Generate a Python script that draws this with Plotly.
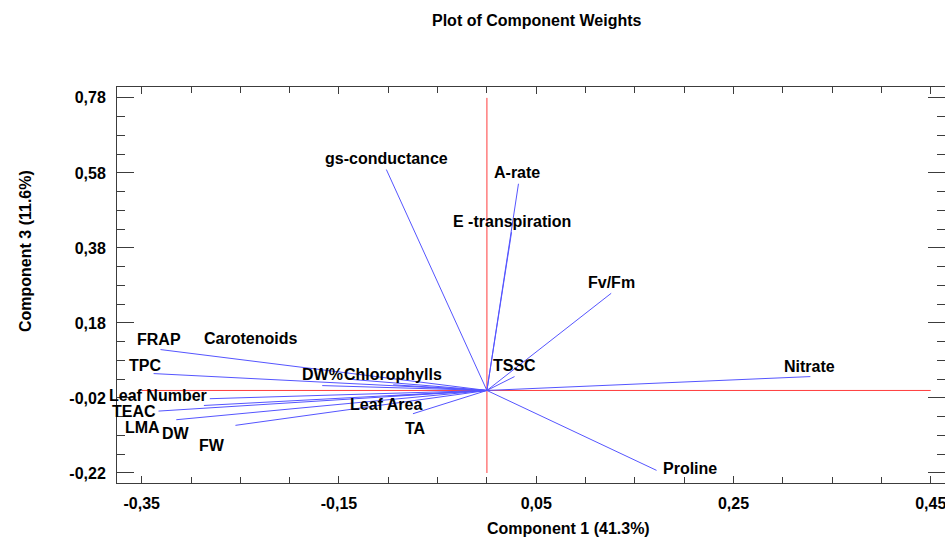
import plotly.graph_objects as go

# Component weights (component 1 vs component 3)
variables = ["gs-conductance", "A-rate", "E -transpiration", "Fv/Fm", "TSSC",
             "Nitrate", "Proline", "TA", "Leaf Area", "Chlorophylls", "DW%",
             "Carotenoids", "FRAP", "TPC", "Leaf Number", "TEAC", "LMA", "DW", "FW"]
component1 = [-0.102, 0.032, 0.025, 0.126, 0.028,
              0.328, 0.172, -0.075, -0.100, -0.095, -0.167,
              -0.140, -0.331, -0.338, -0.281, -0.333, -0.315, -0.287, -0.255]
component3 = [0.589, 0.551, 0.422, 0.259, 0.037,
              0.037, -0.213, -0.062, -0.015, 0.015, 0.013,
              0.030, 0.109, 0.045, -0.022, -0.055, -0.078, -0.040, -0.093]

x_tickvals = [-0.35, -0.15, 0.05, 0.25, 0.45]
x_ticktext = ["-0,35", "-0,15", "0,05", "0,25", "0,45"]
y_tickvals = [-0.22, -0.02, 0.18, 0.38, 0.58, 0.78]
y_ticktext = ["-0,22", "-0,02", "0,18", "0,38", "0,58", "0,78"]

title_text = "Plot of Component Weights"
x_title = "Component 1 (41.3%)"
y_title = "Component 3 (11.6%)"

# label placement offsets in pixels (right, up) relative to each vector tip
label_dx = [0, -1, 0, 0, 0, -1, 33, 3, -2, 0, 0, -98, -1, -9, -52, -25, -34, -28, -23]
label_dy = [11, 11, 11, 11, 11, 10, 2, -15, -8, 10, 11, 41, 10, 8, 3, 0, -8, -28, -20]

FONT = "Arial, Liberation Sans, sans-serif"
BLUE = "rgb(85,85,255)"
RED = "rgb(255,60,60)"
AXIS = "rgb(60,60,60)"

W, H = 945, 537
ML, MR, MT, MB = 117, 0, 87, 54
PW, PH = W - ML - MR, H - MT - MB

fig = go.Figure()

# reference axes through the origin
fig.add_trace(go.Scatter(
    x=[x_tickvals[0], x_tickvals[-1], None, 0, 0],
    y=[0, 0, None, y_tickvals[0], y_tickvals[-1]],
    mode="lines", line=dict(color=RED, width=1), hoverinfo="skip", showlegend=False))

# weight vectors from the origin
vx, vy = [], []
for a, b in zip(component1, component3):
    vx += [0, a, None]
    vy += [0, b, None]
fig.add_trace(go.Scatter(x=vx, y=vy, mode="lines",
                         line=dict(color=BLUE, width=1),
                         hoverinfo="skip", showlegend=False))

annotations = []
for name, a, b, dx, dy in zip(variables, component1, component3, label_dx, label_dy):
    annotations.append(dict(
        x=a, y=b, xref="x", yref="y", text=name, showarrow=False,
        xanchor="center", yanchor="middle", xshift=dx, yshift=dy,
        font=dict(family=FONT, size=16, color="black", weight="bold")))


def px_x(p):
    return (p - ML) / PW


def px_y(p):
    return (H - MB - p) / PH


annotations += [
    dict(x=px_x(536.5), y=px_y(20), xref="paper", yref="paper", text=title_text,
         showarrow=False, xanchor="center", yanchor="middle",
         font=dict(family=FONT, size=16, color="black", weight="bold")),
    dict(x=px_x(568), y=px_y(528), xref="paper", yref="paper", text=x_title,
         showarrow=False, xanchor="center", yanchor="middle",
         font=dict(family=FONT, size=16, color="black", weight="bold")),
    dict(x=px_x(25), y=px_y(251), xref="paper", yref="paper", text=y_title,
         showarrow=False, xanchor="center", yanchor="middle", textangle=-90,
         font=dict(family=FONT, size=16, color="black", weight="bold")),
]

tickfont = dict(family=FONT, size=16, color="black", weight="bold")

fig.update_layout(
    width=W, height=H,
    margin=dict(l=ML, r=MR, t=MT, b=MB, pad=0),
    paper_bgcolor="white", plot_bgcolor="white",
    showlegend=False,
    annotations=annotations,
    xaxis=dict(
        range=[-0.3751, 0.4645], showgrid=False, zeroline=False,
        tickmode="array", tickvals=x_tickvals, ticktext=x_ticktext,
        ticks="inside", ticklen=7, tickcolor=AXIS, tickwidth=1,
        minor=dict(tickmode="linear", tick0=-0.35, dtick=0.05, ticks="inside",
                   ticklen=6, tickcolor=AXIS, showgrid=False),
        showline=True, linecolor=AXIS, linewidth=1, mirror="ticks",
        tickfont=tickfont, ticklabelstandoff=6, ticklabeloverflow="allow"),
    yaxis=dict(
        range=[-0.2467, 0.809], showgrid=False, zeroline=False,
        tickmode="array", tickvals=y_tickvals, ticktext=y_ticktext,
        ticks="inside", ticklen=17, tickcolor=AXIS, tickwidth=1,
        minor=dict(tickmode="linear", tick0=-0.22, dtick=0.05, ticks="inside",
                   ticklen=8, tickcolor=AXIS, showgrid=False),
        showline=True, linecolor=AXIS, linewidth=1, mirror="ticks",
        tickfont=tickfont, ticklabelstandoff=7),
)

fig.write_html("out.html")
